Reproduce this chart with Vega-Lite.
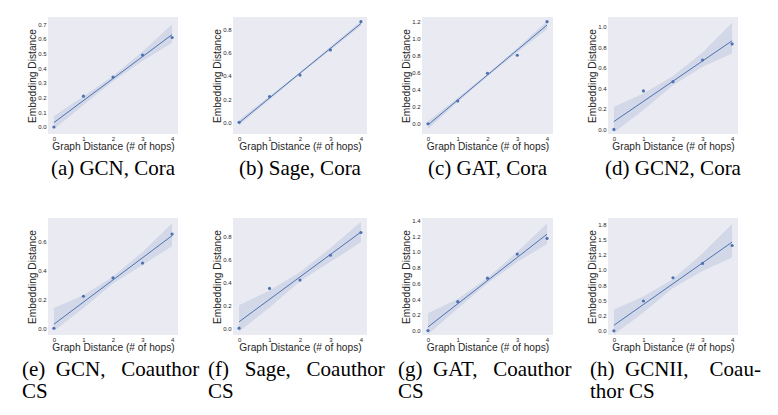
{
 "$schema": "https://vega.github.io/schema/vega-lite/v6.json",
 "padding": {"left": 22, "top": 17, "right": 0, "bottom": 0},
 "background": "white",
 "datasets": {
  "pa": [{"x":0,"y":0},{"x":1,"y":0.21},{"x":2,"y":0.34},{"x":3,"y":0.49},{"x":4,"y":0.61}],
  "ba": [{"x":0,"y":-0.015,"y2":0.075},{"x":1,"y":0.15,"y2":0.21},{"x":2,"y":0.312,"y2":0.348},{"x":3,"y":0.45,"y2":0.515},{"x":4,"y":0.575,"y2":0.70}],
  "pb": [{"x":0,"y":0},{"x":1,"y":0.222},{"x":2,"y":0.406},{"x":3,"y":0.622},{"x":4,"y":0.865}],
  "bb": [{"x":0,"y":-0.025,"y2":0.02},{"x":1,"y":0.195,"y2":0.225},{"x":2,"y":0.413,"y2":0.433},{"x":3,"y":0.622,"y2":0.65},{"x":4,"y":0.828,"y2":0.87}],
  "pc": [{"x":0,"y":0},{"x":1,"y":0.268},{"x":2,"y":0.594},{"x":3,"y":0.805},{"x":4,"y":1.2}],
  "bc": [{"x":0,"y":-0.06,"y2":0.03},{"x":1,"y":0.255,"y2":0.305},{"x":2,"y":0.558,"y2":0.588},{"x":3,"y":0.84,"y2":0.892},{"x":4,"y":1.11,"y2":1.205}],
  "pd": [{"x":0,"y":0},{"x":1,"y":0.375},{"x":2,"y":0.465},{"x":3,"y":0.676},{"x":4,"y":0.833}],
  "bd": [{"x":0,"y":-0.03,"y2":0.22},{"x":1,"y":0.19,"y2":0.35},{"x":2,"y":0.43,"y2":0.52},{"x":3,"y":0.61,"y2":0.75},{"x":4,"y":0.74,"y2":1.04}],
  "pe": [{"x":0,"y":0},{"x":1,"y":0.222},{"x":2,"y":0.35},{"x":3,"y":0.453},{"x":4,"y":0.654}],
  "be": [{"x":0,"y":-0.02,"y2":0.14},{"x":1,"y":0.14,"y2":0.23},{"x":2,"y":0.31,"y2":0.36},{"x":3,"y":0.44,"y2":0.53},{"x":4,"y":0.57,"y2":0.73}],
  "pf": [{"x":0,"y":0},{"x":1,"y":0.347},{"x":2,"y":0.42},{"x":3,"y":0.637},{"x":4,"y":0.836}],
  "bf": [{"x":0,"y":-0.03,"y2":0.2},{"x":1,"y":0.18,"y2":0.33},{"x":2,"y":0.41,"y2":0.49},{"x":3,"y":0.58,"y2":0.7},{"x":4,"y":0.75,"y2":0.93}],
  "pg": [{"x":0,"y":0},{"x":1,"y":0.367},{"x":2,"y":0.666},{"x":3,"y":0.972},{"x":4,"y":1.171}],
  "bg": [{"x":0,"y":-0.05,"y2":0.22},{"x":1,"y":0.28,"y2":0.4},{"x":2,"y":0.6,"y2":0.67},{"x":3,"y":0.87,"y2":1.0},{"x":4,"y":1.1,"y2":1.36}],
  "ph": [{"x":0,"y":0},{"x":1,"y":0.488},{"x":2,"y":0.87},{"x":3,"y":1.105},{"x":4,"y":1.398}],
  "bh": [{"x":0,"y":-0.06,"y2":0.35},{"x":1,"y":0.3,"y2":0.56},{"x":2,"y":0.7,"y2":0.85},{"x":3,"y":0.98,"y2":1.27},{"x":4,"y":1.2,"y2":1.75}]
 },
 "columns": 4,
 "spacing": {"row": 84, "column": 55},
 "bounds": "flush",
 "concat": [
  {
   "width": 130, "height": 117,
   "title": {"text": "(a) GCN, Cora", "orient": "bottom", "anchor": "middle", "frame": "group"},
   "encoding": {
    "x": {"field": "x", "type": "quantitative", "scale": {"domain": [-0.2, 4.2], "nice": false}, "axis": {"values": [0,1,2,3,4], "format": "d", "title": "Graph Distance (# of hops)"}},
    "y": {"field": "y", "type": "quantitative", "scale": {"domain": [-0.048, 0.75], "nice": false, "zero": false}, "axis": {"values": [0,0.1,0.2,0.3,0.4,0.5,0.6,0.7], "format": ".1f", "title": "Embedding Distance"}}
   },
   "layer": [
    {"data": {"name": "ba"}, "mark": {"type": "area", "color": "#4C72B0", "opacity": 0.15}, "encoding": {"y2": {"field": "y2"}}},
    {"data": {"name": "pa"}, "transform": [{"regression": "y", "on": "x"}], "mark": {"type": "line", "color": "#4C72B0", "strokeWidth": 1}, "encoding": {}},
    {"data": {"name": "pa"}, "mark": {"type": "circle", "color": "#4C72B0", "size": 10, "opacity": 1}}
   ]
  },
  {
   "width": 134, "height": 117,
   "title": {"text": "(b) Sage, Cora", "orient": "bottom", "anchor": "middle", "frame": "group"},
   "encoding": {
    "x": {"field": "x", "type": "quantitative", "scale": {"domain": [-0.2, 4.2], "nice": false}, "axis": {"values": [0,1,2,3,4], "format": "d", "title": "Graph Distance (# of hops)"}},
    "y": {"field": "y", "type": "quantitative", "scale": {"domain": [-0.1, 0.905], "nice": false, "zero": false}, "axis": {"values": [0,0.2,0.4,0.6,0.8], "format": ".1f", "title": "Embedding Distance"}}
   },
   "layer": [
    {"data": {"name": "bb"}, "mark": {"type": "area", "color": "#4C72B0", "opacity": 0.15}, "encoding": {"y2": {"field": "y2"}}},
    {"data": {"name": "pb"}, "transform": [{"regression": "y", "on": "x"}], "mark": {"type": "line", "color": "#4C72B0", "strokeWidth": 1}, "encoding": {}},
    {"data": {"name": "pb"}, "mark": {"type": "circle", "color": "#4C72B0", "size": 10, "opacity": 1}}
   ]
  },
  {
   "width": 131, "height": 117,
   "title": {"text": "(c) GAT, Cora", "orient": "bottom", "anchor": "middle", "frame": "group"},
   "encoding": {
    "x": {"field": "x", "type": "quantitative", "scale": {"domain": [-0.2, 4.2], "nice": false}, "axis": {"values": [0,1,2,3,4], "format": "d", "title": "Graph Distance (# of hops)"}},
    "y": {"field": "y", "type": "quantitative", "scale": {"domain": [-0.12, 1.255], "nice": false, "zero": false}, "axis": {"values": [0,0.2,0.4,0.6,0.8,1.0,1.2], "format": ".1f", "title": "Embedding Distance"}}
   },
   "layer": [
    {"data": {"name": "bc"}, "mark": {"type": "area", "color": "#4C72B0", "opacity": 0.15}, "encoding": {"y2": {"field": "y2"}}},
    {"data": {"name": "pc"}, "transform": [{"regression": "y", "on": "x"}], "mark": {"type": "line", "color": "#4C72B0", "strokeWidth": 1}, "encoding": {}},
    {"data": {"name": "pc"}, "mark": {"type": "circle", "color": "#4C72B0", "size": 10, "opacity": 1}}
   ]
  },
  {
   "width": 130, "height": 117,
   "title": {"text": "(d) GCN2, Cora", "orient": "bottom", "anchor": "middle", "frame": "group"},
   "encoding": {
    "x": {"field": "x", "type": "quantitative", "scale": {"domain": [-0.2, 4.2], "nice": false}, "axis": {"values": [0,1,2,3,4], "format": "d", "title": "Graph Distance (# of hops)"}},
    "y": {"field": "y", "type": "quantitative", "scale": {"domain": [-0.045, 1.095], "nice": false, "zero": false}, "axis": {"values": [0,0.2,0.4,0.6,0.8,1.0], "format": ".1f", "title": "Embedding Distance"}}
   },
   "layer": [
    {"data": {"name": "bd"}, "mark": {"type": "area", "color": "#4C72B0", "opacity": 0.15}, "encoding": {"y2": {"field": "y2"}}},
    {"data": {"name": "pd"}, "transform": [{"regression": "y", "on": "x"}], "mark": {"type": "line", "color": "#4C72B0", "strokeWidth": 1}, "encoding": {}},
    {"data": {"name": "pd"}, "mark": {"type": "circle", "color": "#4C72B0", "size": 10, "opacity": 1}}
   ]
  },
  {
   "width": 130, "height": 117,
   "title": {"text": ["(e)\u00a0\u00a0GCN,\u00a0\u00a0\u00a0Coauthor", "CS"], "orient": "bottom", "anchor": "start", "frame": "group", "dx": -26, "lineHeight": 22},
   "encoding": {
    "x": {"field": "x", "type": "quantitative", "scale": {"domain": [-0.2, 4.2], "nice": false}, "axis": {"values": [0,1,2,3,4], "format": "d", "title": "Graph Distance (# of hops)"}},
    "y": {"field": "y", "type": "quantitative", "scale": {"domain": [-0.047, 0.766], "nice": false, "zero": false}, "axis": {"values": [0,0.2,0.4,0.6], "format": ".1f", "title": "Embedding Distance"}}
   },
   "layer": [
    {"data": {"name": "be"}, "mark": {"type": "area", "color": "#4C72B0", "opacity": 0.15}, "encoding": {"y2": {"field": "y2"}}},
    {"data": {"name": "pe"}, "transform": [{"regression": "y", "on": "x"}], "mark": {"type": "line", "color": "#4C72B0", "strokeWidth": 1}, "encoding": {}},
    {"data": {"name": "pe"}, "mark": {"type": "circle", "color": "#4C72B0", "size": 10, "opacity": 1}}
   ]
  },
  {
   "width": 134, "height": 117,
   "title": {"text": ["(f)\u00a0\u00a0\u00a0Sage,\u00a0\u00a0\u00a0Coauthor", "CS"], "orient": "bottom", "anchor": "start", "frame": "group", "dx": -25, "lineHeight": 22},
   "encoding": {
    "x": {"field": "x", "type": "quantitative", "scale": {"domain": [-0.2, 4.2], "nice": false}, "axis": {"values": [0,1,2,3,4], "format": "d", "title": "Graph Distance (# of hops)"}},
    "y": {"field": "y", "type": "quantitative", "scale": {"domain": [-0.06, 0.963], "nice": false, "zero": false}, "axis": {"values": [0,0.2,0.4,0.6,0.8], "format": ".1f", "title": "Embedding Distance"}}
   },
   "layer": [
    {"data": {"name": "bf"}, "mark": {"type": "area", "color": "#4C72B0", "opacity": 0.15}, "encoding": {"y2": {"field": "y2"}}},
    {"data": {"name": "pf"}, "transform": [{"regression": "y", "on": "x"}], "mark": {"type": "line", "color": "#4C72B0", "strokeWidth": 1}, "encoding": {}},
    {"data": {"name": "pf"}, "mark": {"type": "circle", "color": "#4C72B0", "size": 10, "opacity": 1}}
   ]
  },
  {
   "width": 131, "height": 117,
   "title": {"text": ["(g)\u00a0\u00a0GAT,\u00a0\u00a0\u00a0Coauthor", "CS"], "orient": "bottom", "anchor": "start", "frame": "group", "dx": -24, "lineHeight": 22},
   "encoding": {
    "x": {"field": "x", "type": "quantitative", "scale": {"domain": [-0.2, 4.2], "nice": false}, "axis": {"values": [0,1,2,3,4], "format": "d", "title": "Graph Distance (# of hops)"}},
    "y": {"field": "y", "type": "quantitative", "scale": {"domain": [-0.056, 1.43], "nice": false, "zero": false}, "axis": {"values": [0,0.2,0.4,0.6,0.8,1.0,1.2,1.4], "format": ".1f", "title": "Embedding Distance"}}
   },
   "layer": [
    {"data": {"name": "bg"}, "mark": {"type": "area", "color": "#4C72B0", "opacity": 0.15}, "encoding": {"y2": {"field": "y2"}}},
    {"data": {"name": "pg"}, "transform": [{"regression": "y", "on": "x"}], "mark": {"type": "line", "color": "#4C72B0", "strokeWidth": 1}, "encoding": {}},
    {"data": {"name": "pg"}, "mark": {"type": "circle", "color": "#4C72B0", "size": 10, "opacity": 1}}
   ]
  },
  {
   "width": 130, "height": 117,
   "title": {"text": ["(h)\u00a0\u00a0GCNII,\u00a0\u00a0\u00a0\u00a0Coau-", "thor CS"], "orient": "bottom", "anchor": "start", "frame": "group", "dx": -18, "lineHeight": 22},
   "encoding": {
    "x": {"field": "x", "type": "quantitative", "scale": {"domain": [-0.2, 4.2], "nice": false}, "axis": {"values": [0,1,2,3,4], "format": "d", "title": "Graph Distance (# of hops)"}},
    "y": {"field": "y", "type": "quantitative", "scale": {"domain": [-0.07, 1.85], "nice": false, "zero": false}, "axis": {"values": [0,0.25,0.5,0.75,1.0,1.25,1.5,1.75], "labelExpr": "datum.value == 0.25 ? '0.2' : datum.value == 1.25 ? '1.2' : format(datum.value, '.1f')", "title": "Embedding Distance"}}
   },
   "layer": [
    {"data": {"name": "bh"}, "mark": {"type": "area", "color": "#4C72B0", "opacity": 0.15}, "encoding": {"y2": {"field": "y2"}}},
    {"data": {"name": "ph"}, "transform": [{"regression": "y", "on": "x"}], "mark": {"type": "line", "color": "#4C72B0", "strokeWidth": 1}, "encoding": {}},
    {"data": {"name": "ph"}, "mark": {"type": "circle", "color": "#4C72B0", "size": 10, "opacity": 1}}
   ]
  }
 ],
 "config": {
  "view": {"fill": "#EAEAF2", "stroke": null},
  "axis": {"grid": false, "domain": false, "ticks": false, "labelFont": "Liberation Sans", "labelFontSize": 6, "labelColor": "#262626", "labelFlush": false, "labelOverlap": false, "titleFont": "Liberation Sans", "titleFontSize": 10.2, "titleFontWeight": "normal", "titleColor": "#262626"},
  "axisX": {"labelPadding": 1, "titlePadding": 0},
  "axisY": {"labelPadding": 2, "titlePadding": 0},
  "title": {"font": "Liberation Serif", "fontSize": 21, "fontWeight": "normal", "color": "#000000", "offset": 7}
 }
}
